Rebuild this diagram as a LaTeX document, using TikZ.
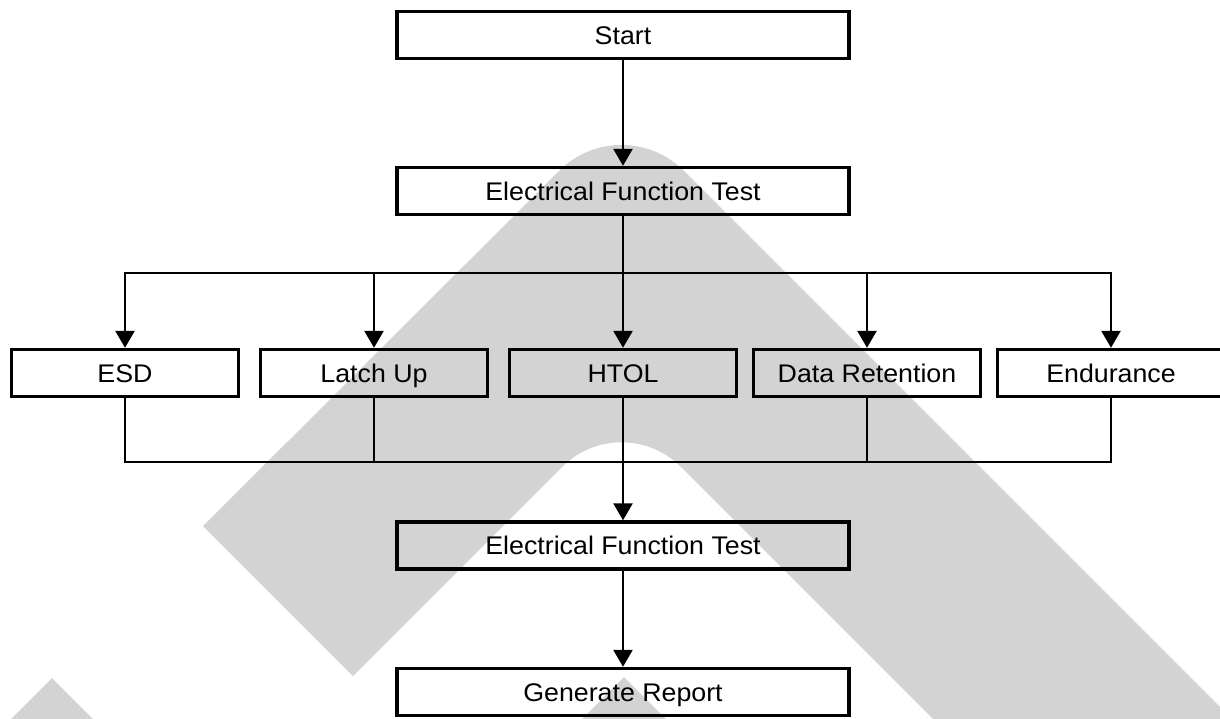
\documentclass[tikz,border=0pt]{standalone}
\usepackage{fontspec}
\setmainfont{Liberation Sans}[FakeStretch=1.05]
\usetikzlibrary{arrows.meta}
\definecolor{wm}{RGB}{211,211,211}
\begin{document}
\begin{tikzpicture}[x=1pt,y=-1pt,
  box/.style={draw=black,line width=3.4pt,minimum height=47pt,inner sep=0pt,
    text height=21pt,text depth=3pt,font=\fontsize{25.5}{30}\selectfont},
  wide/.style={box,minimum width=452pt},
  rowbox/.style={box,minimum width=227pt},
  conn/.style={draw=black,line width=2.6pt},
  arr/.style={conn,-{Triangle[length=17pt,width=19pt]}}]
\useasboundingbox (0,0) rectangle (1220,718);
\clip (0,0) rectangle (1220,718);
% watermark
\fill[wm] (203,526) -- (559.3,170.7) .. controls (593.7,136.3) and (649.3,136.3) .. (683.7,170.7)
  -- (1313,800) -- (1014,800) -- (680.9,466.9) .. controls (648.1,434.1) and (594.9,434.1) .. (562.1,466.9)
  -- (353,676) -- cycle;
\fill[wm] (624,677) -- (685,738) -- (563,738) -- cycle;
\fill[wm] (52,678) -- (113,739) -- (-9,739) -- cycle;
% nodes
\node[wide] (start) at (623,35) {Start};
\node[wide] (eft1) at (623,191) {Electrical Function Test};
\node[rowbox] (esd) at (125,373) {ESD};
\node[rowbox] (latch) at (374,373) {Latch Up};
\node[rowbox] (htol) at (623,373) {HTOL};
\node[rowbox] (dr) at (867,373) {Data Retention};
\node[rowbox] (endu) at (1111,373) {Endurance};
\node[wide] (eft2) at (623,545.5) {Electrical Function Test};
\node[wide] (gr) at (623,692) {Generate Report};
\coordinate (split) at (623,273);
\coordinate (merge) at (623,462);
% connectors
\draw[arr] (start) -- (eft1);
\draw[conn] (eft1.south) -- (split);
\foreach \n in {esd,latch,dr,endu} \draw[arr] (split) -| (\n.north);
\draw[arr] (split) -- (htol.north);
\foreach \n in {esd,latch,dr,endu} \draw[conn] (\n.south) |- (merge);
\draw[arr] (htol.south) -- (eft2.north);
\draw[arr] (eft2) -- (gr);
\end{tikzpicture}
\end{document}
